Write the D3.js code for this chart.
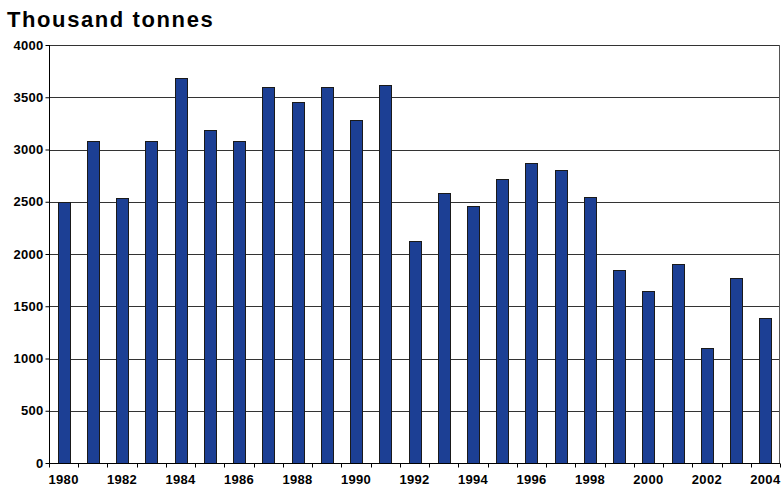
<!DOCTYPE html>
<html>
<head>
<meta charset="utf-8">
<script src="https://cdn.jsdelivr.net/npm/d3@7"></script>
<style>
  body { margin: 0; background: #fff; }
  svg text { font-family: "Liberation Sans", Arial, sans-serif; font-weight: bold; fill: #000; }
</style>
</head>
<body>
<div id="chart"></div>
<script>
const years = d3.range(1980, 2005);
const values = [2500, 3080, 2540, 3080, 3685, 3185, 3080, 3595, 3450, 3595, 3280, 3615,
  2120, 2580, 2460, 2715, 2875, 2805, 2550, 1850, 1645, 1900, 1098, 1772, 1392];
const yTicks = [0, 500, 1000, 1500, 2000, 2500, 3000, 3500, 4000];
const labelYears = years.filter(y => y % 2 === 0);

const width = 781;
const height = 486;
const margin = { top: 45, right: 1, bottom: 23, left: 49 };

const svg = d3.select("#chart")
  .append("svg")
  .attr("width", width)
  .attr("height", height);

const x = d3.scaleBand()
  .domain(years)
  .range([margin.left, width - margin.right])
  .paddingInner(0.59)
  .paddingOuter(0.295);

const y = d3.scaleLinear()
  .domain([0, 4000])
  .range([height - margin.bottom, margin.top]);

// title
svg.append("text")
  .attr("x", 7)
  .attr("y", 27)
  .style("font-size", "22px")
  .style("letter-spacing", "1.6px")
  .text("Thousand tonnes");

// gridlines
svg.append("g")
  .selectAll("line")
  .data(yTicks.filter(d => d > 0))
  .join("line")
    .attr("x1", margin.left)
    .attr("x2", width - margin.right)
    .attr("y1", d => Math.round(y(d)) + 0.5)
    .attr("y2", d => Math.round(y(d)) + 0.5)
    .attr("stroke", "#333")
    .attr("stroke-width", 1);

// right border
svg.append("line")
  .attr("x1", width - margin.right - 0.5)
  .attr("x2", width - margin.right - 0.5)
  .attr("y1", y(4000))
  .attr("y2", y(0))
  .attr("stroke", "#555");

// bars
svg.append("g")
  .selectAll("rect")
  .data(years.map((yr, i) => ({ yr, v: values[i] })))
  .join("rect")
    .attr("x", d => Math.round(x(d.yr)) + 0.5)
    .attr("y", d => Math.round(y(d.v)) + 0.5)
    .attr("width", Math.round(x.bandwidth()))
    .attr("height", d => y(0) - Math.round(y(d.v)))
    .attr("fill", "#1c3f94")
    .attr("stroke", "#1a1a1a")
    .attr("stroke-width", 1);

// y axis
const yAxis = svg.append("g")
  .attr("transform", `translate(${margin.left + 0.5},0)`)
  .call(d3.axisLeft(y).tickValues(yTicks).tickSize(4).tickPadding(2).tickFormat(d3.format("d")));
yAxis.selectAll("text").style("font-size", "13px").style("letter-spacing", "0.3px");
yAxis.selectAll("line, path").attr("stroke", "#000");
yAxis.select(".domain").attr("d", `M0,${y(4000)}V${y(0)}`);

// x axis: ticks at category boundaries, labels every other year
const step = x.step();
const x0 = margin.left;
const base = Math.round(y(0)) + 0.5;
svg.append("line")
  .attr("x1", x0).attr("x2", width - margin.right)
  .attr("y1", base).attr("y2", base)
  .attr("stroke", "#000");
svg.append("g")
  .selectAll("line")
  .data(d3.range(years.length + 1))
  .join("line")
    .attr("x1", i => Math.round(x0 + i * step) + 0.5)
    .attr("x2", i => Math.round(x0 + i * step) + 0.5)
    .attr("y1", base)
    .attr("y2", base + 4)
    .attr("stroke", "#000");
svg.append("g")
  .selectAll("text")
  .data(labelYears)
  .join("text")
    .attr("x", d => x(d) + x.bandwidth() / 2)
    .attr("y", 484)
    .attr("text-anchor", "middle")
    .style("font-size", "13px")
    .style("letter-spacing", "0.3px")
    .text(d => d);
</script>
</body>
</html>
